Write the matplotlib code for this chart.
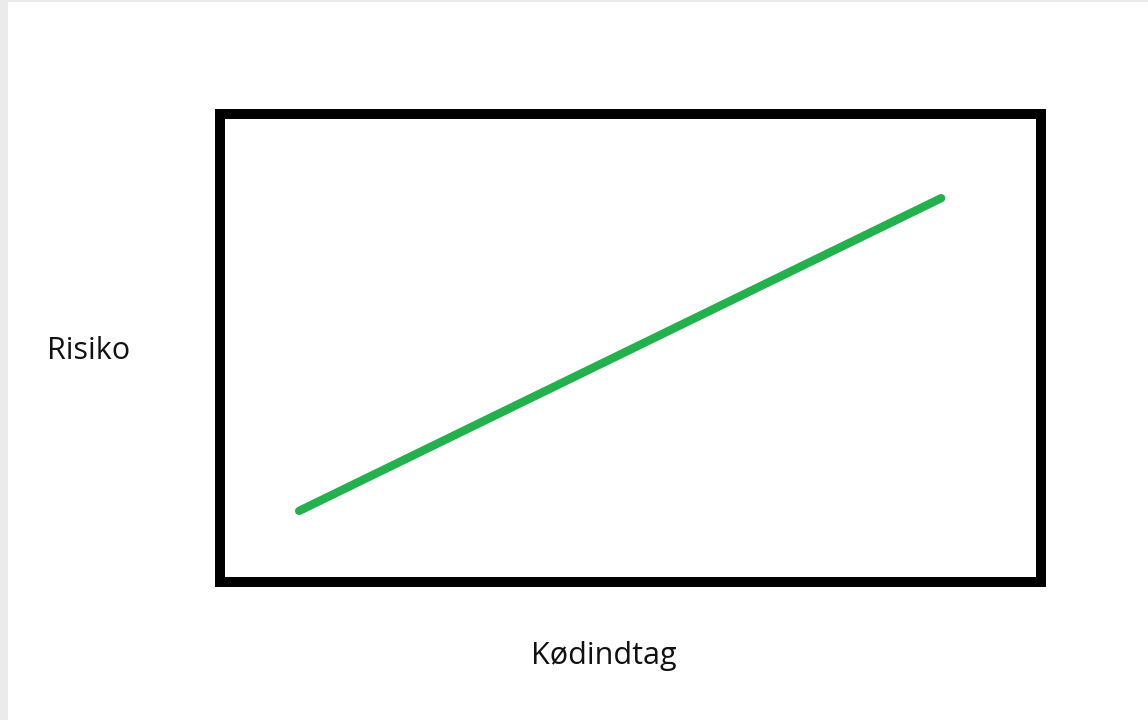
"""
Risiko vs. kødindtag sketch
"""

import matplotlib.pyplot as plt
from matplotlib.patches import Rectangle

# data (hand-drawn line, two end points)
x_vals = [0.97, 8.79]
y_vals = [1.51, 8.20]
x_label = "Kødindtag"
y_label = "Risiko"

W, H = 1148, 720
fig = plt.figure(figsize=(W / 100, H / 100), dpi=100)
fig.patch.set_facecolor("#ebebeb")
# white page on grey background
fig.add_artist(Rectangle((8 / W, 0), 1, 1 - 2 / H, transform=fig.transFigure,
                         facecolor="white", edgecolor="none", zorder=0))

# axes box (spine centre lines)
left, right = 219.5 / W, 1040.5 / W
top, bottom = 1 - 114 / H, 1 - 581.5 / H
ax = fig.add_axes([left, bottom, right - left, top - bottom])
ax.set_facecolor("white")
for s in ax.spines.values():
    s.set_linewidth(7.2)
    s.set_color("black")
ax.set_xlim(0, 10)
ax.set_ylim(0, 10)
ax.set_xticks([])
ax.set_yticks([])

ax.plot(x_vals, y_vals, color="#22b14c", lw=6, solid_capstyle="round")

fig.text(89 / W, 1 - 351 / H, y_label, ha="center", va="center",
         fontsize=22, family="Open Sans", color="#111111")
fig.text(603.5 / W, 1 - 656 / H, x_label, ha="center", va="center",
         fontsize=22, family="Open Sans", color="#111111")

fig.savefig("out.png", dpi=100, facecolor=fig.get_facecolor())
